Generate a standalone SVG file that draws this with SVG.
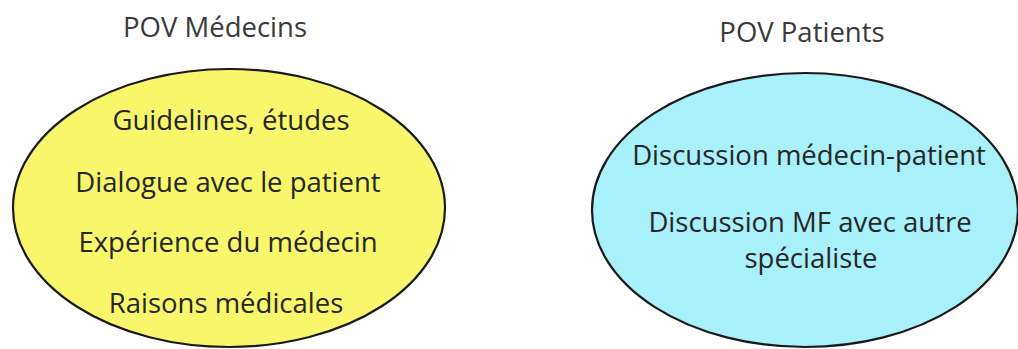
<svg xmlns="http://www.w3.org/2000/svg" width="1018" height="349" viewBox="0 0 1018 349">
<style>
.title{font-family:"Open Sans",Lato,sans-serif;font-size:27.5px;fill:#3a3a3a;text-anchor:middle}
.t{font-family:"Open Sans",Lato,sans-serif;font-size:27.5px;fill:#262626;text-anchor:middle}
.e{stroke:#1a1a1a;stroke-width:2.2}
</style>
<rect width="1018" height="349" fill="#ffffff"/>
<g id="medecins">
<text class="title" x="215" y="37">POV Médecins</text>
<ellipse class="e" cx="229" cy="208" rx="216" ry="139" fill="#F8F66B"/>
<text class="t" x="231" y="130">Guidelines, études</text>
<text class="t" x="228" y="192">Dialogue avec le patient</text>
<text class="t" x="228" y="252">Expérience du médecin</text>
<text class="t" x="226" y="313">Raisons médicales</text>
</g>
<g id="patients">
<text class="title" x="802" y="42">POV Patients</text>
<ellipse class="e" cx="805" cy="210" rx="213" ry="137" fill="#A8F0FA"/>
<text class="t" x="809" y="165">Discussion médecin-patient</text>
<text class="t" x="810" y="232">Discussion MF avec autre</text>
<text class="t" x="811" y="268">spécialiste</text>
</g>
<g id="connectors"></g>
</svg>
